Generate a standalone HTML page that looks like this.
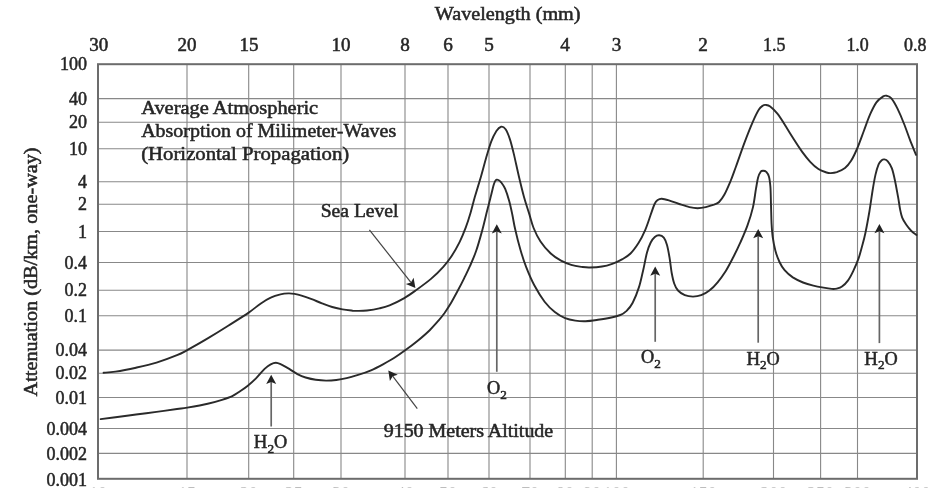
<!DOCTYPE html>
<html><head><meta charset="utf-8"><title>Atmospheric absorption</title>
<style>html,body{margin:0;padding:0;background:#fff;}body{width:952px;height:488px;overflow:hidden;}svg{display:block;filter:blur(0.45px);}text{font-family:"Liberation Serif",serif;fill:#262626;stroke:#262626;stroke-width:0.5px;}</style></head><body>
<svg width="952" height="488" viewBox="0 0 952 488">
<rect width="952" height="488" fill="#fff"/>
<g stroke="#888" stroke-width="1.1" fill="none">
<line x1="187" y1="64.2" x2="187" y2="478.8"/>
<line x1="248.7" y1="64.2" x2="248.7" y2="478.8"/>
<line x1="293.7" y1="64.2" x2="293.7" y2="478.8"/>
<line x1="341" y1="64.2" x2="341" y2="478.8"/>
<line x1="405" y1="64.2" x2="405" y2="478.8"/>
<line x1="448" y1="64.2" x2="448" y2="478.8"/>
<line x1="489" y1="64.2" x2="489" y2="478.8"/>
<line x1="530" y1="64.2" x2="530" y2="478.8"/>
<line x1="565.3" y1="64.2" x2="565.3" y2="478.8"/>
<line x1="592.2" y1="64.2" x2="592.2" y2="478.8"/>
<line x1="616.4" y1="64.2" x2="616.4" y2="478.8"/>
<line x1="703.2" y1="64.2" x2="703.2" y2="478.8"/>
<line x1="773.5" y1="64.2" x2="773.5" y2="478.8"/>
<line x1="820.6" y1="64.2" x2="820.6" y2="478.8"/>
<line x1="857.5" y1="64.2" x2="857.5" y2="478.8"/>
<line x1="98" y1="98.6" x2="917" y2="98.6"/>
<line x1="98" y1="122.3" x2="917" y2="122.3"/>
<line x1="98" y1="148.8" x2="917" y2="148.8"/>
<line x1="98" y1="181.7" x2="917" y2="181.7"/>
<line x1="98" y1="204.3" x2="917" y2="204.3"/>
<line x1="98" y1="231.5" x2="917" y2="231.5"/>
<line x1="98" y1="262.5" x2="917" y2="262.5"/>
<line x1="98" y1="290.3" x2="917" y2="290.3"/>
<line x1="98" y1="315.8" x2="917" y2="315.8"/>
<line x1="98" y1="350.1" x2="917" y2="350.1"/>
<line x1="98" y1="373.2" x2="917" y2="373.2"/>
<line x1="98" y1="397.5" x2="917" y2="397.5"/>
<line x1="98" y1="428.5" x2="917" y2="428.5"/>
<line x1="98" y1="453.4" x2="917" y2="453.4"/>
</g>
<rect x="98" y="64.2" width="819" height="414.6" fill="none" stroke="#6c6c6c" stroke-width="2.0"/>
<text x="434.8" y="20.2" font-size="18" textLength="145.7" lengthAdjust="spacingAndGlyphs">Wavelength (mm)</text>
<text x="89.3" y="51" font-size="18" textLength="19.0" lengthAdjust="spacingAndGlyphs">30</text>
<text x="177.5" y="51" font-size="18" textLength="19.0" lengthAdjust="spacingAndGlyphs">20</text>
<text x="239.5" y="51" font-size="18" textLength="19.0" lengthAdjust="spacingAndGlyphs">15</text>
<text x="331.5" y="51" font-size="18" textLength="19.0" lengthAdjust="spacingAndGlyphs">10</text>
<text x="400.2" y="51" font-size="18" textLength="9.6" lengthAdjust="spacingAndGlyphs">8</text>
<text x="443.2" y="51" font-size="18" textLength="9.6" lengthAdjust="spacingAndGlyphs">6</text>
<text x="484.2" y="51" font-size="18" textLength="9.6" lengthAdjust="spacingAndGlyphs">5</text>
<text x="560.2" y="51" font-size="18" textLength="9.6" lengthAdjust="spacingAndGlyphs">4</text>
<text x="611.7" y="51" font-size="18" textLength="9.6" lengthAdjust="spacingAndGlyphs">3</text>
<text x="698.2" y="51" font-size="18" textLength="9.6" lengthAdjust="spacingAndGlyphs">2</text>
<text x="763.0" y="51" font-size="18" textLength="22.4" lengthAdjust="spacingAndGlyphs">1.5</text>
<text x="846.4" y="51" font-size="18" textLength="22.4" lengthAdjust="spacingAndGlyphs">1.0</text>
<text x="904.0" y="51" font-size="18" textLength="22.4" lengthAdjust="spacingAndGlyphs">0.8</text>
<text x="87" y="70.3" font-size="18" text-anchor="end">100</text>
<text x="87" y="104.69999999999999" font-size="18" text-anchor="end">40</text>
<text x="87" y="128.4" font-size="18" text-anchor="end">20</text>
<text x="87" y="154.9" font-size="18" text-anchor="end">10</text>
<text x="87" y="187.79999999999998" font-size="18" text-anchor="end">4</text>
<text x="87" y="210.4" font-size="18" text-anchor="end">2</text>
<text x="87" y="237.6" font-size="18" text-anchor="end">1</text>
<text x="87" y="268.6" font-size="18" text-anchor="end">0.4</text>
<text x="87" y="296.40000000000003" font-size="18" text-anchor="end">0.2</text>
<text x="87" y="321.90000000000003" font-size="18" text-anchor="end">0.1</text>
<text x="87" y="356.20000000000005" font-size="18" text-anchor="end">0.04</text>
<text x="87" y="379.3" font-size="18" text-anchor="end">0.02</text>
<text x="87" y="403.6" font-size="18" text-anchor="end">0.01</text>
<text x="87" y="434.6" font-size="18" text-anchor="end">0.004</text>
<text x="87" y="459.5" font-size="18" text-anchor="end">0.002</text>
<text x="87" y="486.3" font-size="18" text-anchor="end">0.001</text>
<text x="98" y="500.2" font-size="18" text-anchor="middle" style="fill:#bdbdbd;stroke:none">10</text>
<text x="187" y="500.2" font-size="18" text-anchor="middle" style="fill:#bdbdbd;stroke:none">15</text>
<text x="248.7" y="500.2" font-size="18" text-anchor="middle" style="fill:#bdbdbd;stroke:none">20</text>
<text x="293.7" y="500.2" font-size="18" text-anchor="middle" style="fill:#bdbdbd;stroke:none">25</text>
<text x="341" y="500.2" font-size="18" text-anchor="middle" style="fill:#bdbdbd;stroke:none">30</text>
<text x="405" y="500.2" font-size="18" text-anchor="middle" style="fill:#bdbdbd;stroke:none">40</text>
<text x="448" y="500.2" font-size="18" text-anchor="middle" style="fill:#bdbdbd;stroke:none">50</text>
<text x="489" y="500.2" font-size="18" text-anchor="middle" style="fill:#bdbdbd;stroke:none">60</text>
<text x="530" y="500.2" font-size="18" text-anchor="middle" style="fill:#bdbdbd;stroke:none">70</text>
<text x="565" y="500.2" font-size="18" text-anchor="middle" style="fill:#bdbdbd;stroke:none">80</text>
<text x="592" y="500.2" font-size="18" text-anchor="middle" style="fill:#bdbdbd;stroke:none">90</text>
<text x="616.5" y="500.2" font-size="18" text-anchor="middle" style="fill:#bdbdbd;stroke:none">100</text>
<text x="703.2" y="500.2" font-size="18" text-anchor="middle" style="fill:#bdbdbd;stroke:none">150</text>
<text x="773.7" y="500.2" font-size="18" text-anchor="middle" style="fill:#bdbdbd;stroke:none">200</text>
<text x="820.6" y="500.2" font-size="18" text-anchor="middle" style="fill:#bdbdbd;stroke:none">250</text>
<text x="857.5" y="500.2" font-size="18" text-anchor="middle" style="fill:#bdbdbd;stroke:none">300</text>
<text x="917" y="500.2" font-size="18" text-anchor="middle" style="fill:#bdbdbd;stroke:none">400</text>
<text transform="translate(37.1,396.4) rotate(-90)" font-size="18" textLength="249" lengthAdjust="spacingAndGlyphs">Attenuation (dB/km, one-way)</text>
<text x="141.2" y="114.1" font-size="18" textLength="177" lengthAdjust="spacingAndGlyphs">Average Atmospheric</text>
<text x="141.2" y="137.2" font-size="18" textLength="255" lengthAdjust="spacingAndGlyphs">Absorption of Milimeter-Waves</text>
<text x="141.2" y="160.1" font-size="18" textLength="208" lengthAdjust="spacingAndGlyphs">(Horizontal Propagation)</text>
<text x="320.7" y="217" font-size="18" textLength="77.8" lengthAdjust="spacingAndGlyphs">Sea Level</text>
<text x="383.7" y="436.7" font-size="18" textLength="169.5" lengthAdjust="spacingAndGlyphs">9150 Meters Altitude</text>
<text x="253.8" y="448.3" font-size="18"><tspan textLength="13.6" lengthAdjust="spacingAndGlyphs">H</tspan><tspan font-size="12.5" dy="4.6" textLength="6.6" lengthAdjust="spacingAndGlyphs">2</tspan><tspan dy="-4.6" textLength="13.2" lengthAdjust="spacingAndGlyphs">O</tspan></text>
<text x="487" y="393.9" font-size="18"><tspan textLength="13.2" lengthAdjust="spacingAndGlyphs">O</tspan><tspan font-size="12.5" dy="4.6" textLength="6.6" lengthAdjust="spacingAndGlyphs">2</tspan></text>
<text x="641" y="363.3" font-size="18"><tspan textLength="13.2" lengthAdjust="spacingAndGlyphs">O</tspan><tspan font-size="12.5" dy="4.6" textLength="6.6" lengthAdjust="spacingAndGlyphs">2</tspan></text>
<text x="746.4" y="364.8" font-size="18"><tspan textLength="13.6" lengthAdjust="spacingAndGlyphs">H</tspan><tspan font-size="12.5" dy="4.6" textLength="6.6" lengthAdjust="spacingAndGlyphs">2</tspan><tspan dy="-4.6" textLength="13.2" lengthAdjust="spacingAndGlyphs">O</tspan></text>
<text x="864.3" y="364.8" font-size="18"><tspan textLength="13.6" lengthAdjust="spacingAndGlyphs">H</tspan><tspan font-size="12.5" dy="4.6" textLength="6.6" lengthAdjust="spacingAndGlyphs">2</tspan><tspan dy="-4.6" textLength="13.2" lengthAdjust="spacingAndGlyphs">O</tspan></text>
<line x1="271.2" y1="426.5" x2="271.2" y2="382.0" stroke="#666" stroke-width="1.7"/><path d="M271.2,374.8L276.2,384.0L271.2,382.0L266.2,384.0Z" fill="#222"/>
<line x1="496.8" y1="371.8" x2="496.8" y2="231.5" stroke="#666" stroke-width="1.7"/><path d="M496.8,224.3L501.8,233.5L496.8,231.5L491.8,233.5Z" fill="#222"/>
<line x1="655.2" y1="341.8" x2="655.2" y2="273.8" stroke="#666" stroke-width="1.7"/><path d="M655.2,266.6L660.2,275.8L655.2,273.8L650.2,275.8Z" fill="#222"/>
<line x1="758.2" y1="342.7" x2="758.2" y2="236.2" stroke="#666" stroke-width="1.7"/><path d="M758.2,229.0L763.2,238.2L758.2,236.2L753.2,238.2Z" fill="#222"/>
<line x1="879.4" y1="343.1" x2="879.4" y2="231.3" stroke="#666" stroke-width="1.7"/><path d="M879.4,224.1L884.4,233.3L879.4,231.3L874.4,233.3Z" fill="#222"/>
<line x1="369.4" y1="229.9" x2="410.9" y2="282.4" stroke="#444" stroke-width="1.2"/><path d="M415.4,288.0L405.8,283.9L410.9,282.4L413.6,277.7Z" fill="#222"/>
<line x1="417.3" y1="408.7" x2="392.7" y2="376.2" stroke="#444" stroke-width="1.2"/><path d="M388.3,370.5L397.8,374.8L392.7,376.2L389.9,380.9Z" fill="#222"/>
<g fill="none" stroke="#2a2a2a" stroke-width="1.9" stroke-linecap="round" stroke-linejoin="round">
<path d="M103.6,372.8C105.6,372.6 110.1,372.5 115.5,371.6C120.9,370.8 129.2,369.2 136.0,367.7C142.8,366.2 149.7,364.7 156.5,362.6C163.3,360.5 171.9,357.3 177.0,355.2C182.1,353.1 182.1,352.9 187.2,350.1C192.3,347.3 200.9,342.5 207.7,338.4C214.5,334.3 221.4,330.0 228.2,325.7C235.0,321.4 243.3,316.3 248.7,312.6C254.1,308.9 256.8,306.2 260.5,303.7C264.2,301.2 267.4,299.2 270.7,297.7C274.0,296.1 277.6,295.1 280.5,294.4C283.4,293.7 286.0,293.5 288.3,293.4C290.6,293.3 292.3,293.5 294.5,293.9C296.7,294.3 298.6,294.7 301.5,295.6C304.4,296.5 308.3,297.9 311.7,299.2C315.1,300.5 318.6,302.0 322.0,303.3C325.4,304.6 328.8,306.0 332.2,307.0C335.6,308.0 339.1,308.8 342.5,309.4C345.9,310.0 350.0,310.4 352.7,310.7C355.4,310.9 356.5,310.9 358.9,310.9C361.3,310.9 363.6,310.9 367.0,310.5C370.4,310.1 375.5,309.3 379.3,308.4C383.1,307.5 385.4,307.0 389.6,305.3C393.8,303.6 400.0,300.6 404.3,298.1C408.6,295.6 411.2,293.7 415.6,290.5C420.1,287.3 426.4,282.8 431.0,278.9C435.6,274.9 439.9,270.6 443.3,266.8C446.7,263.0 448.8,260.5 451.5,256.3C454.2,252.1 457.3,246.6 459.7,241.8C462.1,237.0 464.0,232.2 465.8,227.4C467.6,222.6 469.0,218.1 470.5,213.0C472.0,207.9 473.1,203.1 474.8,197.0C476.6,190.9 479.1,183.0 481.0,176.5C482.9,170.0 484.4,163.8 486.1,158.0C487.8,152.2 489.5,146.1 491.2,141.6C492.9,137.1 494.8,133.5 496.4,131.0C498.0,128.5 499.6,127.0 501.1,126.7C502.6,126.4 504.2,127.3 505.6,129.3C507.0,131.3 508.3,134.5 509.7,138.6C511.1,142.7 512.3,147.6 513.8,153.9C515.3,160.2 517.2,169.3 518.9,176.5C520.6,183.7 522.3,190.8 524.0,197.0C525.7,203.2 527.5,208.2 529.1,213.4C530.7,218.6 531.7,223.3 533.6,228.0C535.5,232.7 537.7,237.3 540.5,241.5C543.3,245.7 547.1,250.1 550.5,253.3C553.9,256.5 557.5,258.8 561.0,260.7C564.5,262.6 567.8,263.8 571.2,264.8C574.6,265.8 578.4,266.4 581.5,266.9C584.6,267.3 586.3,267.6 589.7,267.5C593.1,267.4 598.2,267.1 602.0,266.5C605.8,265.9 608.8,265.0 612.2,263.8C615.6,262.6 619.5,260.8 622.5,259.1C625.5,257.4 627.8,256.2 630.5,253.5C633.2,250.8 636.0,246.9 638.5,243.0C641.0,239.1 643.3,234.4 645.3,229.8C647.3,225.2 649.0,219.6 650.5,215.3C652.0,211.0 653.4,206.6 654.6,204.0C655.8,201.4 656.5,200.9 657.7,200.0C658.9,199.1 659.9,198.6 661.8,198.7C663.7,198.8 666.0,199.5 668.9,200.4C671.8,201.3 675.8,202.9 679.2,204.0C682.6,205.1 686.3,206.4 689.4,207.1C692.5,207.8 694.9,208.2 697.6,208.2C700.3,208.2 703.1,207.7 705.8,207.1C708.5,206.5 711.8,205.5 714.0,204.7C716.2,203.8 717.4,203.7 719.1,202.0C720.8,200.3 722.4,198.2 724.3,194.8C726.2,191.4 728.4,186.2 730.4,181.5C732.4,176.8 733.6,173.0 736.0,166.5C738.4,160.0 741.8,149.8 744.6,142.4C747.4,135.0 750.4,127.4 752.8,121.9C755.2,116.4 757.2,112.3 758.9,109.6C760.6,106.9 761.9,106.3 763.0,105.5C764.1,104.7 764.3,104.7 765.5,104.9C766.7,105.1 768.2,105.0 770.2,106.5C772.2,108.0 774.8,110.5 777.4,113.7C780.0,117.0 782.9,121.7 785.6,126.0C788.3,130.3 791.1,135.0 793.8,139.3C796.5,143.6 799.3,147.8 802.0,151.6C804.7,155.3 807.5,158.9 810.2,161.8C812.9,164.7 815.7,167.2 818.4,169.0C821.1,170.8 824.5,171.8 826.6,172.5C828.7,173.2 829.0,173.2 830.7,173.1C832.4,173.0 834.4,172.9 836.8,172.1C839.2,171.2 842.6,169.9 845.0,168.0C847.4,166.1 849.0,164.1 851.1,160.8C853.2,157.5 855.2,153.1 857.4,148.0C859.5,142.9 861.9,136.1 864.0,130.5C866.1,124.9 868.1,118.9 870.2,114.2C872.3,109.5 874.2,105.4 876.4,102.4C878.6,99.4 881.5,97.5 883.2,96.4C884.9,95.3 885.3,95.5 886.7,95.8C888.1,96.1 889.6,96.2 891.4,98.4C893.2,100.6 895.5,104.6 897.5,108.7C899.5,112.8 901.7,117.9 903.7,123.0C905.8,128.1 907.8,134.1 909.8,139.4C911.8,144.7 915.0,152.2 916.0,154.8"/>
<path d="M100.7,419.1C103.2,418.8 109.6,418.0 115.5,417.2C121.4,416.4 129.2,415.4 136.0,414.5C142.8,413.6 149.7,412.8 156.5,411.9C163.3,411.0 171.9,409.7 177.0,409.0C182.1,408.3 182.1,408.5 187.2,407.6C192.3,406.7 201.9,405.0 207.7,403.7C213.5,402.4 217.9,401.1 222.0,399.8C226.1,398.5 229.5,397.4 232.3,396.1C235.1,394.8 236.5,393.7 239.0,392.0C241.5,390.3 244.7,388.3 247.5,386.0C250.3,383.7 253.2,381.2 256.0,378.4C258.9,375.5 262.2,371.2 264.6,368.9C267.1,366.6 268.8,365.4 270.7,364.4C272.6,363.4 274.2,362.8 275.9,362.8C277.6,362.8 278.8,363.4 281.0,364.4C283.2,365.4 286.5,367.3 289.2,368.9C291.9,370.5 294.7,372.7 297.4,374.1C300.1,375.5 302.5,376.6 305.6,377.5C308.7,378.4 312.4,379.3 315.8,379.8C319.2,380.3 322.7,380.6 326.1,380.6C329.5,380.6 332.9,380.4 336.3,380.0C339.7,379.6 342.8,379.1 346.6,378.2C350.4,377.3 354.8,376.0 358.9,374.7C363.0,373.4 367.0,372.0 371.0,370.3C375.0,368.6 379.1,366.4 383.0,364.3C386.9,362.2 390.8,360.1 394.4,357.8C398.0,355.5 401.0,353.4 404.8,350.6C408.6,347.9 413.0,344.7 417.1,341.3C421.2,337.9 426.1,333.7 429.7,330.2C433.3,326.7 436.2,323.2 438.7,320.4C441.1,317.6 442.3,316.1 444.4,313.2C446.4,310.3 448.8,306.7 451.0,303.0C453.2,299.3 455.5,294.9 457.7,290.8C459.9,286.7 462.1,282.4 464.1,278.3C466.1,274.2 467.9,270.8 469.9,266.2C471.9,261.6 474.1,256.9 476.1,251.0C478.2,245.1 480.5,236.7 482.2,230.5C483.9,224.3 485.2,218.6 486.3,214.1C487.4,209.6 488.2,206.8 489.0,203.5C489.8,200.2 490.6,197.4 491.3,194.4C492.1,191.4 492.9,187.8 493.5,185.6C494.1,183.4 494.5,182.4 495.0,181.4C495.5,180.4 496.1,179.9 496.7,179.7C497.3,179.5 498.0,179.8 498.7,180.2C499.4,180.6 500.0,180.9 501.1,182.3C502.2,183.8 503.9,185.8 505.2,188.9C506.5,192.0 508.0,196.7 509.2,201.0C510.4,205.3 511.4,210.2 512.4,215.0C513.4,219.8 513.9,224.0 515.3,229.8C516.6,235.6 518.7,243.8 520.5,250.0C522.3,256.2 523.8,261.0 526.1,266.9C528.4,272.8 531.2,279.5 534.3,285.3C537.4,291.1 541.2,297.2 544.6,301.7C548.0,306.1 551.4,309.3 554.8,312.0C558.2,314.7 561.7,316.7 565.1,318.1C568.5,319.5 571.9,320.1 575.3,320.6C578.7,321.1 581.8,321.3 585.6,321.2C589.4,321.1 593.8,320.4 597.9,319.8C602.0,319.2 606.5,318.5 610.2,317.7C614.0,316.9 617.7,316.1 620.4,315.0C623.1,313.9 624.5,312.9 626.6,310.9C628.7,308.8 630.7,306.6 632.7,302.7C634.8,298.8 637.2,292.7 638.9,287.4C640.6,282.1 641.6,276.8 643.0,271.0C644.4,265.2 645.7,257.2 647.0,252.5C648.3,247.8 649.4,245.1 650.7,242.5C652.0,239.9 653.4,238.2 654.8,237.0C656.2,235.8 657.7,235.2 659.2,235.3C660.7,235.4 662.5,236.1 663.8,237.7C665.1,239.3 666.0,241.6 667.0,245.0C668.0,248.4 668.8,253.3 669.6,258.0C670.4,262.7 670.9,268.8 671.7,273.0C672.5,277.2 673.2,280.6 674.2,283.5C675.2,286.4 676.2,288.6 678.0,290.5C679.8,292.4 682.3,294.2 684.8,295.2C687.3,296.2 690.3,296.6 693.0,296.6C695.7,296.6 698.5,296.2 701.2,295.2C703.9,294.2 706.7,292.6 709.4,290.5C712.1,288.4 714.9,285.6 717.6,282.3C720.3,279.1 723.1,275.2 725.8,271.0C728.4,266.8 731.0,261.6 733.5,256.8C736.0,252.0 738.2,247.4 740.5,242.2C742.8,237.0 745.3,231.4 747.4,225.6C749.5,219.8 751.6,213.2 753.0,207.1C754.4,200.9 755.1,193.6 756.0,188.7C756.9,183.8 757.3,180.2 758.1,177.4C758.9,174.6 759.9,172.8 760.7,171.7C761.6,170.6 762.3,170.7 763.2,170.7C764.1,170.7 765.3,170.9 766.3,171.9C767.2,172.9 768.2,174.0 768.9,176.4C769.6,178.8 770.0,181.8 770.4,186.6C770.8,191.4 770.8,198.8 771.0,205.0C771.2,211.2 771.3,218.7 771.6,224.0C771.9,229.3 772.1,232.6 772.7,237.0C773.3,241.4 774.3,246.5 775.4,250.7C776.5,254.9 778.0,258.8 779.5,262.0C781.0,265.2 782.4,267.6 784.6,270.2C786.8,272.8 789.7,275.3 792.8,277.4C795.9,279.4 799.6,281.1 803.0,282.5C806.4,283.9 809.9,284.8 813.3,285.6C816.7,286.5 820.4,287.1 823.5,287.6C826.6,288.2 829.5,288.7 831.7,288.9C833.9,289.1 835.1,289.0 836.8,288.6C838.5,288.2 840.1,288.0 842.0,286.6C843.9,285.2 846.2,283.0 848.1,280.4C850.0,277.8 851.5,274.8 853.2,271.2C854.9,267.6 856.9,263.0 858.4,258.9C859.9,254.8 860.8,250.8 862.0,246.5C863.2,242.2 864.2,238.8 865.4,233.0C866.6,227.2 868.2,218.5 869.4,211.5C870.6,204.5 871.5,197.2 872.5,191.0C873.5,184.8 874.5,179.0 875.5,174.6C876.5,170.2 877.6,166.7 878.6,164.3C879.6,161.9 880.8,161.0 881.7,160.2C882.7,159.4 883.3,159.2 884.3,159.4C885.3,159.6 886.5,159.8 887.8,161.3C889.1,162.8 890.7,165.2 891.9,168.4C893.1,171.6 894.0,175.9 895.0,180.7C896.0,185.5 897.2,192.3 898.1,197.1C899.0,201.9 899.4,206.0 900.1,209.4C900.8,212.8 901.2,215.0 902.2,217.6C903.2,220.2 904.8,222.6 906.3,224.8C907.8,227.0 909.7,229.3 911.4,231.0C913.1,232.7 915.6,234.3 916.5,235.0"/>
</g>
</svg></body></html>
